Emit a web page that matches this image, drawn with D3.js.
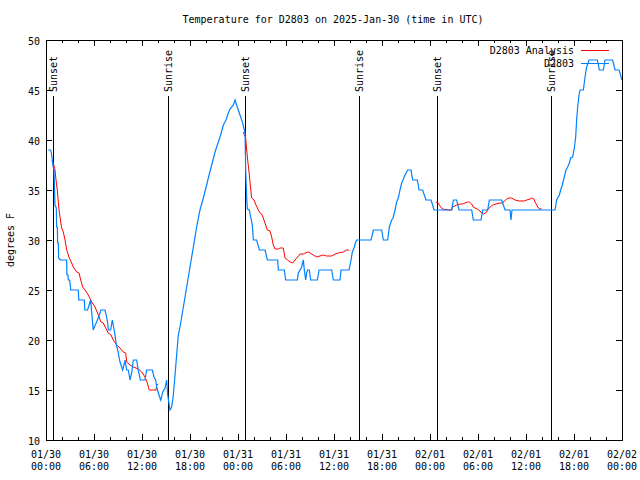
<!DOCTYPE html>
<html><head><meta charset="utf-8">
<script src="https://cdn.jsdelivr.net/npm/d3@7"></script>
<style>body{margin:0;background:#fff}svg{display:block}text{font-family:"DejaVu Sans Mono",monospace;font-size:10px;fill:#000}</style>
</head><body><svg id="c" width="640" height="480"></svg>
<script>
const title = "Temperature for D2803 on 2025-Jan-30 (time in UTC)";
const yLabel = "degrees F";
const startTime = Date.UTC(2025,0,30,0,0);
const yTicks = [10,15,20,25,30,35,40,45,50];
const xTickHours = [0,6,12,18,24,30,36,42,48,54,60,66,72];
const xTickLabels = [["01/30","00:00"],["01/30","06:00"],["01/30","12:00"],["01/30","18:00"],["01/31","00:00"],["01/31","06:00"],["01/31","12:00"],["01/31","18:00"],["02/01","00:00"],["02/01","06:00"],["02/01","12:00"],["02/01","18:00"],["02/02","00:00"]];
const sunHours = [0.91,15.19,24.84,39.16,48.84,63.09];
const sunLabels = ["Sunset","Sunrise","Sunset","Sunrise","Sunset","Sunrise"];
const seriesNames = ["D2803 Analysis","D2803"];

// observations (hours since 01/30 00:00 UTC, degrees F)
const obsHours = [0.29,0.58,0.67,0.75,0.85,1.0,1.12,1.29,1.33,1.42,1.45,1.54,1.58,1.79,2.58,2.62,2.75,2.78,2.95,3.1,4.03,4.1,4.79,4.85,5.2,5.58,5.9,6.04,6.33,6.67,6.87,7.37,7.58,7.71,7.79,8.08,8.29,8.41,8.63,8.75,8.96,9.13,9.25,9.46,9.58,9.75,9.88,10.08,10.29,10.5,10.71,10.92,11.33,11.46,11.79,12.38,12.58,13.29,13.5,13.71,13.83,14.13,14.33,14.46,14.58,14.88,15.08,15.21,15.5,15.71,15.92,16.13,16.33,16.54,16.75,16.96,17.17,17.38,17.67,18.0,18.42,18.83,19.25,19.67,20.08,20.29,20.71,21.13,21.54,21.83,22.17,22.5,22.79,23.0,23.42,23.63,23.83,24.04,24.33,24.58,24.79,24.88,24.96,25.08,25.17,25.42,25.58,25.79,25.92,26.33,26.67,27.38,27.67,28.96,29.04,29.79,29.96,31.42,31.54,31.75,31.96,32.17,32.29,32.46,32.58,32.71,32.92,33.08,33.92,34.13,35.71,35.92,36.75,36.88,37.88,38.13,38.29,38.5,38.67,38.83,40.63,40.92,41.96,42.17,42.71,42.92,43.21,43.38,43.63,43.83,44.04,44.25,44.46,44.67,44.88,45.21,45.63,45.83,46.42,46.63,47.08,47.29,47.5,48.13,48.33,48.5,50.71,50.92,51.33,51.63,53.21,53.42,54.38,54.58,55.21,55.42,56.96,57.17,57.38,58.0,58.13,58.25,63.63,63.83,64.17,64.33,64.54,64.75,65.0,65.21,65.42,65.58,65.83,66.04,66.21,66.33,66.46,66.63,66.75,67.17,67.38,67.58,67.88,68.92,69.17,69.67,69.88,70.83,71.13,71.63,71.75,71.88,72.0];
const obsTemps = [39,39,38.7,38.3,37.5,37,33.5,33.2,31.3,31.3,29.7,29.7,28.2,28,28,26.5,26.5,26,26,25,25,24,24,23,23,24,21,21.3,21.8,22.5,23,23,22.3,21.7,21,21,22,21.5,20.5,19.7,19,18.3,17.8,17.3,17,17.5,18,17,17,16,16.7,18,18,17.3,16,16,17,17,16.3,16,15.3,14.5,14,14.3,14.8,15.2,16,14.5,13,13.3,14.5,16.5,18.5,20.5,21.3,22.3,23.3,24.3,25.7,27.3,29.3,31.3,33,34.2,35.5,36.2,37.5,38.8,39.8,40.5,41.5,42,42.7,43.1,43.5,44,43.5,43,42.3,41.7,41,40.7,37,34.3,33.1,33,32.3,31.5,30,30,29,29,28,28,27,27,26,26,26.7,27,27.3,28,27,26,26.7,27,27,26,26,27,27,26,26,27,27,28,28.8,29.2,29.7,30,30,31,31,30,30,31.3,32,32.2,33,33.8,34.2,35,35.7,36.1,36.5,37,37,36,36,35,35,34.5,34,34,33.5,33,33,34,34,33,33,32,32,33,33,34,34,33.5,33,33,32,33,33,34,34.5,35,35.5,36.2,37,37.3,37.7,38.2,38.3,39.2,40.3,42,43.3,44.5,45,45,46.3,47.3,48,48,47,47,48,48,47,47,46.7,46.3,46];

// analysis (null = no analysis)
const anaHours = [0.75,0.91,1.13,1.25,1.41,1.54,1.66,1.84,1.96,2.16,2.38,2.59,2.91,3.21,3.41,3.84,4.13,4.34,4.59,4.88,5.29,5.59,5.79,6.13,6.54,6.88,7.16,7.46,7.79,8.13,8.41,8.84,9.25,9.66,9.96,10.09,10.5,10.91,11.54,11.96,12.38,12.66,12.91,13.75,13.84,14.04,
  20,
  24.66,24.96,25.09,25.21,25.38,25.5,25.63,25.71,26.0,26.25,26.54,26.75,26.96,27.16,27.46,27.66,28.0,28.21,28.41,28.63,29.04,29.25,29.66,29.88,30.21,30.5,30.84,31.13,31.46,31.75,32.16,32.38,32.79,33.0,33.41,33.84,34.25,34.66,35.09,35.71,36.13,36.54,37.16,37.59,37.91,
  44,
  48.71,49.04,49.25,49.54,50.29,50.71,50.79,51.34,51.75,52.09,52.38,52.66,52.91,53.21,53.41,53.63,53.91,54.25,54.46,54.66,54.96,55.21,55.5,55.84,56.25,56.75,57.09,57.29,57.59,57.91,58.21,58.63,59.16,59.79,60.09,60.5,60.71,61.0,61.13,61.34,61.54,61.75,61.96];
const anaTemps = [38,37.7,37,36,35,33.8,32.8,31.8,31.2,30.8,30,29,28.2,27.7,27.3,26.8,26.7,26,25.3,25,24.5,24,23.7,23.3,22.5,21.8,21.7,21.2,20.7,20.5,20,19.5,19.2,18.8,18.7,17.8,17.5,17.3,17.1,16.8,16.3,15.7,15,15,15.5,15.6,
  null,
  40.8,40.2,39,38,36.8,35.8,34.8,34.2,34,33.5,33,32.7,32.6,32.2,31.5,31,30.9,30.3,29.5,29.1,29.1,29.2,29.2,28.2,28,27.8,27.7,28,28.3,28.6,28.6,28.7,28.8,28.7,28.5,28.3,28.4,28.5,28.4,28.4,28.6,28.7,28.8,29,29,
  null,
  33.8,33.7,33.4,33.1,33,33,33.3,33.5,33.6,33.6,33.7,33.8,33.8,33.6,33.3,33.2,33.1,32.9,32.7,32.6,32.7,33,33.3,33.5,33.6,33.7,33.7,33.9,34.1,34.2,34.2,34,33.9,33.9,34,34.1,34.2,34.1,33.8,33.5,33.2,33.1,33.1];

const colors = ["#ff0000","#0080ff"];
const L=46,R=622,T=40,B=440;
const svg = d3.select("#c");
const hToDate = h => new Date(startTime + h*3600000);
const x = d3.scaleUtc().domain([hToDate(0),hToDate(72)]).range([L,R]);
const y = d3.scaleLinear().domain([10,50]).range([B,T]);

// sun lines
sunHours.forEach((h,i)=>{
  const xx = Math.round(x(hToDate(h)))+0.5;
  svg.append("line").attr("x1",xx).attr("x2",xx).attr("y1",96).attr("y2",B).attr("stroke","#000");
  svg.append("text").attr("transform",`translate(${xx+3},92) rotate(-90)`).attr("text-anchor","start").text(sunLabels[i]);
});

// data lines
const obs = obsHours.map((h,i)=>({d:hToDate(h),v:obsTemps[i]}));
const ana = anaHours.map((h,i)=>({d:hToDate(h),v:anaTemps[i]}));
const line = d3.line().defined(p=>p.v!=null).x(p=>x(p.d)).y(p=>y(p.v));
svg.append("path").attr("d",line(ana)).attr("fill","none").attr("stroke",colors[0]).attr("stroke-width",1);
svg.append("path").attr("d",line(obs)).attr("fill","none").attr("stroke",colors[1]).attr("stroke-width",1.2);

// frame
svg.append("rect").attr("x",L+0.5).attr("y",T+0.5).attr("width",R-L).attr("height",B-T).attr("fill","none").attr("stroke","#000");

// x ticks (major every 6h, minor every 2h), mirrored
for(let h=0;h<=72;h+=2){
  const xx=Math.round(x(hToDate(h)))+0.5;
  const len = h%6===0?6:3;
  svg.append("line").attr("x1",xx).attr("x2",xx).attr("y1",B).attr("y2",B-len).attr("stroke","#000");
  svg.append("line").attr("x1",xx).attr("x2",xx).attr("y1",T).attr("y2",T+len).attr("stroke","#000");
}
xTickHours.forEach((h,i)=>{
  const xx=x(hToDate(h));
  svg.append("text").attr("x",xx).attr("y",458).attr("text-anchor","middle").text(xTickLabels[i][0]);
  svg.append("text").attr("x",xx).attr("y",470).attr("text-anchor","middle").text(xTickLabels[i][1]);
});
// y ticks mirrored
yTicks.forEach(v=>{
  const yy=Math.round(y(v))+0.5;
  svg.append("line").attr("x1",L).attr("x2",L+6).attr("y1",yy).attr("y2",yy).attr("stroke","#000");
  svg.append("line").attr("x1",R-6).attr("x2",R).attr("y1",yy).attr("y2",yy).attr("stroke","#000");
  svg.append("text").attr("x",40).attr("y",yy+4).attr("text-anchor","end").text(v);
});

// title and y label
svg.append("text").attr("x",333).attr("y",23).attr("text-anchor","middle").text(title);
svg.append("text").attr("transform","translate(14,240) rotate(-90)").attr("text-anchor","middle").text(yLabel);

// legend
seriesNames.forEach((n,i)=>{
  const yy=50+i*13;
  svg.append("text").attr("x",574).attr("y",yy+4).attr("text-anchor","end").text(n);
  svg.append("line").attr("x1",581).attr("x2",609).attr("y1",yy+0.5).attr("y2",yy+0.5).attr("stroke",colors[i]);
});
</script></body></html>
